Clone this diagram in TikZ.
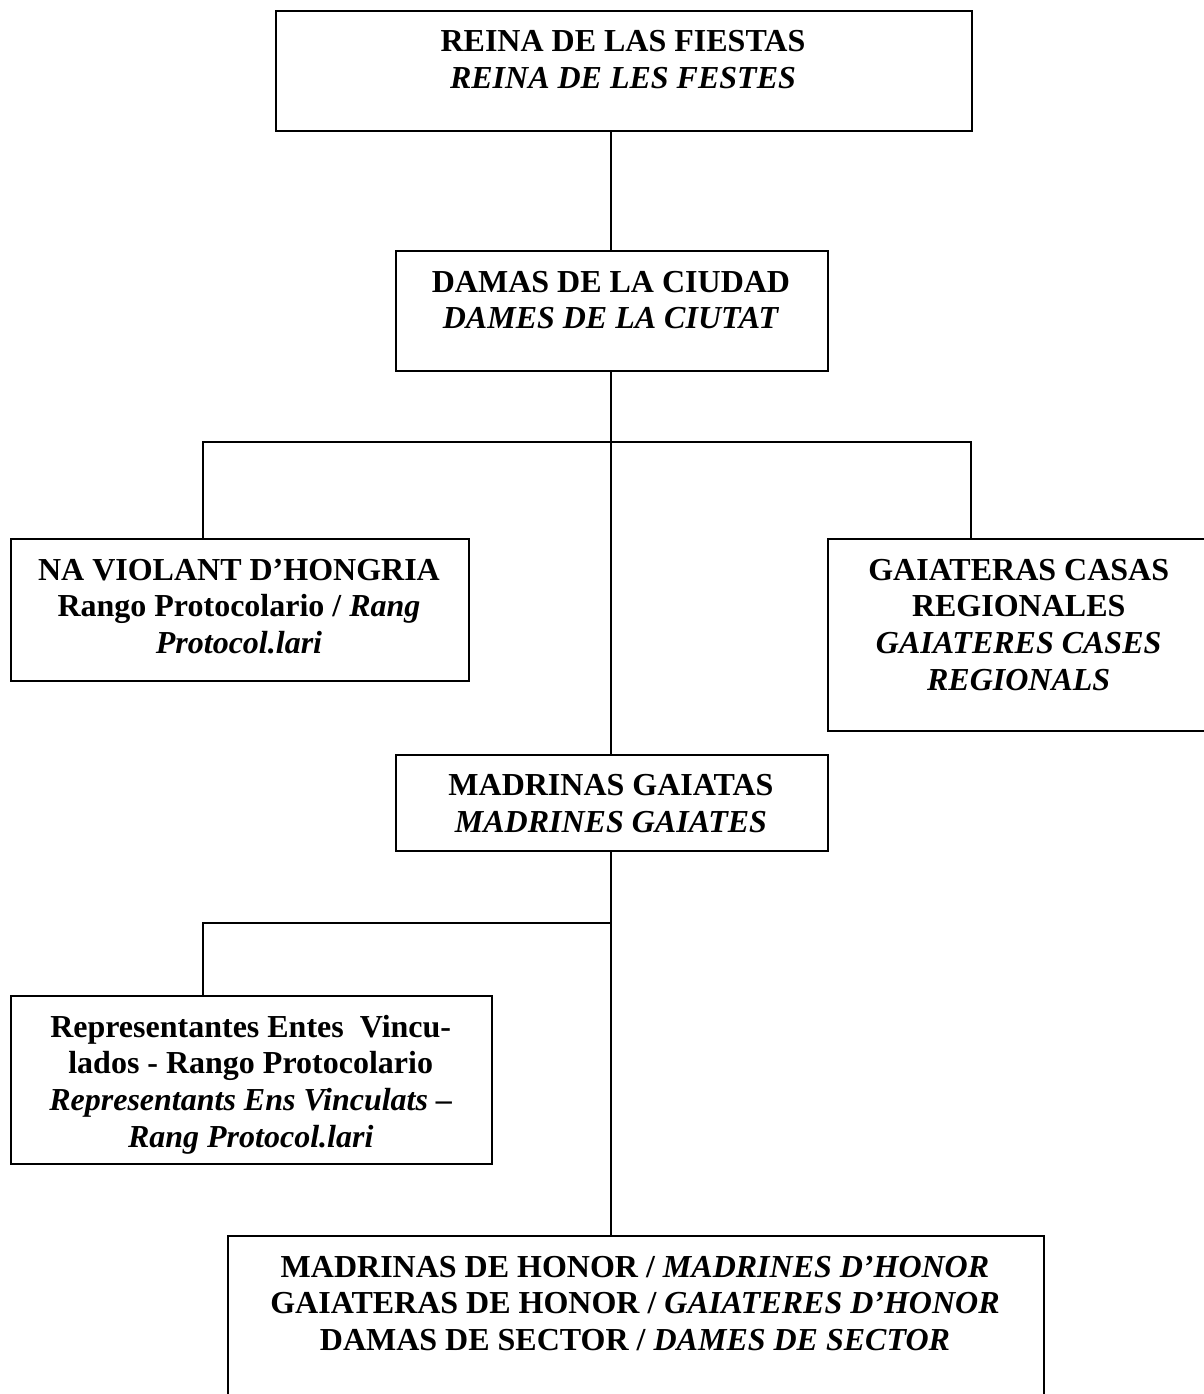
\documentclass[tikz,border=0pt]{standalone}
\usepackage{fontspec}
\setmainfont{Liberation Serif}
\begin{document}
\begin{tikzpicture}[x=1pt,y=-1pt,
  boxst/.style={draw=black, line width=1.8pt, inner sep=0pt, anchor=north west},
  txt/.style={inner sep=0pt, anchor=base, font=\fontsize{32}{36.8}\selectfont\bfseries},
  conn/.style={draw=black, line width=1.8pt}]
\useasboundingbox (0,0) rectangle (1204,1394);
\fill[white] (0,0) rectangle (1204,1394);
% boxes
\node[boxst, minimum width=696pt, minimum height=120pt] (b1) at (275,10) {};
\node[boxst, minimum width=432pt, minimum height=120pt] (b2) at (395,250) {};
\node[boxst, minimum width=458pt, minimum height=142pt] (b3) at (10,538) {};
\node[boxst, minimum width=384pt, minimum height=192pt] (b4) at (827,538) {};
\node[boxst, minimum width=432pt, minimum height=96pt] (b5) at (395,754) {};
\node[boxst, minimum width=481pt, minimum height=168pt] (b6) at (10,995) {};
\node[boxst, minimum width=816pt, minimum height=180pt] (b7) at (227,1235) {};
% texts
\node[txt] (t1) at (623,52) {\parbox[t]{680pt}{\centering REINA DE LAS FIESTAS\\\textit{REINA DE LES FESTES}}};
\node[txt] (t2) at (611,292) {\parbox[t]{420pt}{\centering DAMAS DE LA CIUDAD\\\textit{DAMES DE LA CIUTAT}}};
\node[txt] (t3) at (239,580) {\parbox[t]{450pt}{\centering NA VIOLANT D’HONGRIA\\Rango Protocolario / \textit{Rang}\\\textit{Protocol.lari}}};
\node[txt] (t4) at (1018.7,580) {\parbox[t]{380pt}{\centering GAIATERAS CASAS\\REGIONALES\\\textit{GAIATERES CASES}\\\textit{REGIONALS}}};
\node[txt] (t5) at (611,795.5) {\parbox[t]{420pt}{\centering MADRINAS GAIATAS\\\textit{MADRINES GAIATES}}};
\node[txt] (t6) at (250.7,1037) {\parbox[t]{475pt}{\centering Representantes Entes~ Vincu-\\lados - Rango Protocolario\\\textit{Representants Ens Vinculats –}\\\textit{Rang Protocol.lari}}};
\node[txt] (t7) at (635,1277) {\parbox[t]{800pt}{\centering MADRINAS DE HONOR / \textit{MADRINES D’HONOR}\\GAIATERAS DE HONOR / \textit{GAIATERES D’HONOR}\\DAMAS DE SECTOR / \textit{DAMES DE SECTOR}}};
% junction coordinates
\coordinate (sp) at (611,0);
\coordinate (lx) at (203,0);
\coordinate (rx) at (971,0);
\coordinate (h1) at (611,442);
\coordinate (h2) at (611,923);
% connectors
\draw[conn] (b1.south -| sp) -- (b2.north -| sp);
\draw[conn] (b2.south -| sp) -- (b5.north -| sp);
\draw[conn] (b3.north -| lx) |- (h1 -| rx) -- (b4.north -| rx);
\draw[conn] (b5.south -| sp) -- (b7.north -| sp);
\draw[conn] (b6.north -| lx) |- (h2);
\end{tikzpicture}
\end{document}
